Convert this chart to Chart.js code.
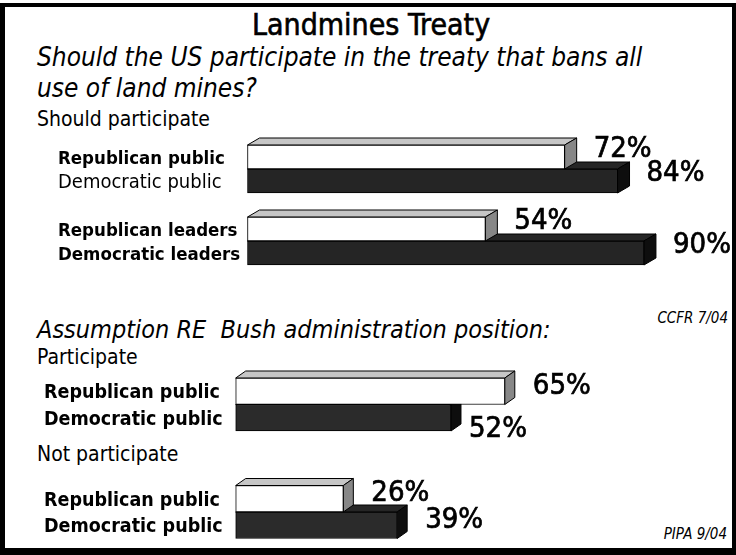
<!DOCTYPE html>
<html>
<head>
<meta charset="utf-8">
<title>Landmines Treaty</title>
<script src="https://cdn.jsdelivr.net/npm/chart.js@4.4.1/dist/chart.umd.min.js"></script>
<style>
  html, body { margin: 0; padding: 0; background: #fff; }
  #page {
    position: relative; width: 736px; height: 555px; overflow: hidden;
    font-family: "DejaVu Sans Condensed", "Liberation Sans Narrow", "DejaVu Sans", sans-serif;
    color: #000;
  }
  #frame {
    position: absolute; left: 0; top: 3px; width: 736px; height: 552px;
    box-sizing: border-box; border: solid #000; border-width: 4px 4px 7px 5px;
  }
  .t { position: absolute; white-space: nowrap; line-height: 1; }
  .i { font-style: italic; }
  .heavy { -webkit-text-stroke: 0.6px #000; }
  canvas { position: absolute; left: 0; }
</style>
</head>
<body>
<div id="page">
  <div id="frame"></div>

  <div class="t heavy" style="left:252px; top:9.6px; font-size:30px;">Landmines Treaty</div>
  <div class="t i" style="left:37px; top:44px; font-size:26px;">Should the US participate in the treaty that bans all</div>
  <div class="t i" style="left:37px; top:75px; font-size:26px;">use of land mines?</div>
  <div class="t" style="left:37px; top:109px; font-size:21px;">Should participate</div>
  <div class="t i" style="right:8px; top:311px; font-size:15px;">CCFR 7/04</div>

  <div class="t i" style="left:37px; top:317px; font-size:25px;">Assumption RE&nbsp; Bush administration position:</div>
  <div class="t" style="left:37px; top:347px; font-size:21px;">Participate</div>
  <div class="t" style="left:37px; top:444px; font-size:21px;">Not participate</div>
  <div class="t i" style="right:9px; top:527px; font-size:15px;">PIPA 9/04</div>

  <canvas id="topChart" width="736" height="170" style="top:120px"></canvas>
  <canvas id="bottomChart" width="736" height="215" style="top:340px"></canvas>
</div>

<script>
// percent answering, CCFR 7/04
const topGroups = ['Public', 'Leaders'];
const topRepNames = ['Republican public', 'Republican leaders'];
const topDemNames = ['Democratic public', 'Democratic leaders'];
const topRep = [72, 54];
const topDem = [84, 90];

// percent assuming each position, PIPA 9/04
const bottomGroups = ['Participate', 'Not participate'];
const bottomRepNames = ['Republican public', 'Republican public'];
const bottomDemNames = ['Democratic public', 'Democratic public'];
const bottomRep = [65, 26];
const bottomDem = [52, 39];

const FONT = '"DejaVu Sans Condensed", "Liberation Sans Narrow", "DejaVu Sans", sans-serif';

// fake 3D: top and right faces behind each bar
const depthPlugin = {
  id: 'depth',
  beforeDatasetDraw(chart, args, opts) {
    const ctx = chart.ctx;
    const ds = chart.data.datasets[args.index];
    const dx = opts.dx, dy = opts.dy;
    ctx.save();
    ctx.strokeStyle = '#000';
    ctx.lineWidth = 1;
    ctx.lineJoin = 'miter';
    args.meta.data.forEach(bar => {
      const top = bar.y - bar.height / 2;
      const bottom = bar.y + bar.height / 2;
      const left = bar.base, right = bar.x;
      ctx.beginPath();
      ctx.moveTo(left, top);
      ctx.lineTo(left + dx, top - dy);
      ctx.lineTo(right + dx, top - dy);
      ctx.lineTo(right, top);
      ctx.closePath();
      ctx.fillStyle = ds.faceTop;
      ctx.fill();
      ctx.stroke();
      ctx.beginPath();
      ctx.moveTo(right, top);
      ctx.lineTo(right + dx, top - dy);
      ctx.lineTo(right + dx, bottom - dy);
      ctx.lineTo(right, bottom);
      ctx.closePath();
      ctx.fillStyle = ds.faceSide;
      ctx.fill();
      ctx.stroke();
    });
    ctx.restore();
  }
};

// group names to the left of each bar
const rowNamesPlugin = {
  id: 'rowNames',
  afterDatasetsDraw(chart, args, opts) {
    const ctx = chart.ctx;
    ctx.save();
    ctx.fillStyle = '#000';
    ctx.textAlign = 'left';
    ctx.textBaseline = 'alphabetic';
    chart.data.datasets.forEach((ds, di) => {
      chart.getDatasetMeta(di).data.forEach((bar, i) => {
        const f = opts.fonts[di][i];
        ctx.font = f.weight + ' ' + f.size + 'px ' + FONT;
        ctx.fillText(ds.names[i], opts.x, bar.y + f.size * 0.365 + opts.shift);
      });
    });
    ctx.restore();
  }
};

// percentage tags past the end of each bar
const valueTagsPlugin = {
  id: 'valueTags',
  afterDatasetsDraw(chart, args, opts) {
    const ctx = chart.ctx;
    const dx = chart.options.plugins.depth.dx;
    const datasets = chart.data.datasets;
    ctx.save();
    ctx.fillStyle = '#000';
    ctx.strokeStyle = '#000';
    ctx.lineWidth = 0.7;
    ctx.textAlign = 'left';
    ctx.textBaseline = 'alphabetic';
    ctx.font = opts.size + 'px ' + FONT;
    datasets.forEach((ds, di) => {
      chart.getDatasetMeta(di).data.forEach((bar, i) => {
        const v = ds.data[i];
        let x = bar.x + dx + opts.gap;
        let y = bar.y - opts.raise;
        // a lower bar that is shorter than the one above tucks its tag underneath
        if (di === 1 && datasets[0].data[i] > v) {
          x = bar.x + dx + 8;
          y = bar.y + 9;
        }
        const base = y + opts.size * 0.365;
        ctx.fillText(v + '%', x, base);
        ctx.strokeText(v + '%', x, base);
      });
    });
    ctx.restore();
  }
};

function makeChart(id, groups, rep, dem, repNames, demNames, cfg) {
  const ctx = document.getElementById(id).getContext('2d');
  return new Chart(ctx, {
    type: 'bar',
    data: {
      labels: groups,
      datasets: [
        {
          label: 'Republican', data: rep, names: repNames,
          backgroundColor: '#ffffff', faceTop: '#c6c6c6', faceSide: '#878787',
          borderColor: '#000', borderWidth: 1, borderSkipped: false,
          barThickness: cfg.thickness, clip: false
        },
        {
          label: 'Democratic', data: dem, names: demNames,
          backgroundColor: cfg.dark, faceTop: '#262626', faceSide: '#0e0e0e',
          borderColor: '#000', borderWidth: 1, borderSkipped: false,
          barThickness: cfg.thickness, clip: false
        }
      ]
    },
    options: {
      indexAxis: 'y',
      responsive: false,
      animation: false,
      devicePixelRatio: 1,
      layout: { padding: cfg.padding },
      scales: {
        x: { display: false, min: 0, max: 100 },
        y: { display: false, offset: false }
      },
      plugins: {
        legend: { display: false },
        tooltip: { enabled: false },
        depth: { dx: cfg.dx, dy: cfg.dy },
        rowNames: { x: cfg.nameX, fonts: cfg.nameFonts, shift: 0 },
        valueTags: { size: 29, gap: cfg.gap, raise: cfg.raise }
      }
    },
    plugins: [depthPlugin, rowNamesPlugin, valueTagsPlugin]
  });
}

const bold18 = { weight: 'bold', size: 18.5 };
const bold19 = { weight: 'bold', size: 19.5 };
const plain20 = { weight: 'normal', size: 20 };

makeChart('topChart', topGroups, topRep, topDem, topRepNames, topDemNames, {
  padding: { left: 247.5, right: 48, top: 49, bottom: 49 },
  thickness: 24, dx: 12, dy: 7, gap: 17, raise: 11,
  dark: '#252525',
  nameX: 58,
  nameFonts: [[bold18, bold18], [plain20, bold18]]
});

makeChart('bottomChart', bottomGroups, bottomRep, bottomDem, bottomRepNames, bottomDemNames, {
  padding: { left: 235.7, right: 86.3, top: 64.5, bottom: 43 },
  thickness: 26.5, dx: 10, dy: 7, gap: 18, raise: 8,
  dark: '#2b2b2b',
  nameX: 44,
  nameFonts: [[bold19, bold19], [bold19, bold19]]
});
</script>
</body>
</html>
